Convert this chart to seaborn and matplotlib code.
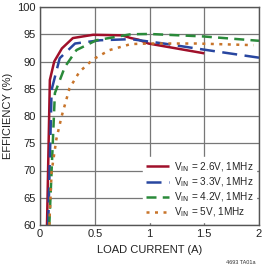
import matplotlib
matplotlib.use("Agg")
import matplotlib.pyplot as plt
import seaborn as sns
import pandas as pd
import numpy as np

sns.set_theme(style="white")
plt.rcParams['font.family'] = ['Liberation Sans Narrow', 'Liberation Sans', 'DejaVu Sans']

# data
x_26 = [0.064, 0.09, 0.13, 0.2, 0.3, 0.485, 0.75, 0.83, 0.9, 0.99, 1.5]
y_26 = [60, 86.6, 90.0, 92.4, 94.3, 94.9, 94.8, 94.3, 94.0, 93.3, 91.5]
x_33 = [0.075, 0.106, 0.18, 0.32, 0.55, 0.83, 1.13, 1.49, 2.0]
y_33 = [60, 84.8, 90.6, 93.3, 93.9, 94.1, 93.3, 92.2, 90.7]
x_42 = [0.085, 0.136, 0.227, 0.333, 0.515, 0.83, 1.0, 1.49, 2.0]
y_42 = [60, 84.2, 89.0, 92.1, 93.9, 95.0, 95.05, 94.6, 93.8]
x_50 = [0.085, 0.106, 0.15, 0.197, 0.27, 0.36, 0.485, 0.636, 0.83, 1.0, 1.43, 1.95]
y_50 = [60, 69.8, 75.8, 79.9, 85.1, 88.1, 90.4, 92.1, 93.2, 93.3, 93.3, 93.0]
labels = [r"V$_{\mathrm{IN}}$ = 2.6V, 1MHz", r"V$_{\mathrm{IN}}$ = 3.3V, 1MHz",
          r"V$_{\mathrm{IN}}$ = 4.2V, 1MHz", r"V$_{\mathrm{IN}}$ = 5V, 1MHz"]

series = [(x_26, y_26), (x_33, y_33), (x_42, y_42), (x_50, y_50)]
df = pd.concat([pd.DataFrame({"x": xs, "y": ys, "s": lab, "o": range(len(xs))})
                for (xs, ys), lab in zip(series, labels)])

colors = ["#a0102a", "#2846a0", "#2a8a3a", "#c8742a"]
styles = [(0, ()), (0, (6, 3)), (0, (4, 2.5)), (0, (1.2, 2.2))]

fig = plt.figure(figsize=(2.62, 2.70), dpi=100)
ax = fig.add_axes([40/262, 45/270, 219/262, 218/270])
for lab, c, ls in zip(labels, colors, styles):
    sub = df[df.s == lab]
    sns.lineplot(data=sub, x="x", y="y", ax=ax, color=c, lw=1.8, sort=False,
                 estimator=None, label=lab, linestyle=ls)

ax.set_xlim(0, 2)
ax.set_ylim(60, 100)
ax.set_xticks([0, 0.5, 1, 1.5, 2])
ax.set_xticklabels(["0", "0.5", "1", "1.5", "2"])
ax.set_yticks(range(60, 101, 5))
ax.grid(True, color="#777777", lw=0.9)
for sp in ax.spines.values():
    sp.set_color("#555555")
    sp.set_linewidth(1.0)
ax.tick_params(axis="both", labelsize=8, colors="#222222", length=0, pad=3)
ax.set_xlabel("LOAD CURRENT (A)", fontsize=8, color="#222222", labelpad=4)
ax.set_ylabel("EFFICIENCY (%)", fontsize=8, color="#222222", labelpad=3)
leg = ax.legend(loc="lower right", fontsize=7.2, frameon=True, handlelength=2.3,
                handletextpad=0.5, labelspacing=0.15, borderpad=0.3,
                borderaxespad=0.3, fancybox=False)
leg.get_frame().set_edgecolor("white")
leg.get_frame().set_facecolor("white")
leg.get_frame().set_alpha(1)
fig.text(255/262, 5/270, "4693 TA01a", fontsize=4, ha="right", va="bottom", color="#333333")
fig.savefig("out.png", dpi=100)
